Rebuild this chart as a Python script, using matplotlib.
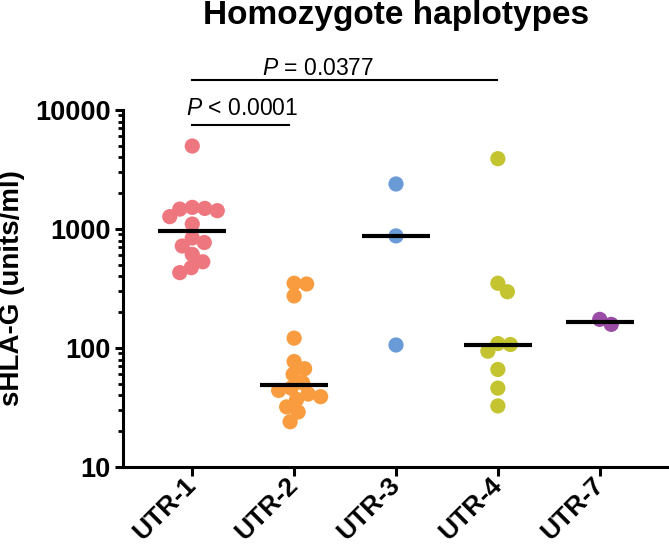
import numpy as np
import matplotlib
matplotlib.use("Agg")
import matplotlib.pyplot as plt
from matplotlib.ticker import LogLocator, NullFormatter, FixedLocator, FixedFormatter

plt.rcParams['font.family'] = ['Liberation Sans', 'DejaVu Sans']
plt.rcParams['mathtext.fontset'] = 'custom'
plt.rcParams['mathtext.it'] = 'Liberation Sans:italic'
plt.rcParams['mathtext.rm'] = 'Liberation Sans'

# ---- data ----
categories = ['UTR-1', 'UTR-2', 'UTR-3', 'UTR-4', 'UTR-7']
utr1 = [4980, 1520, 1490, 1470, 1425, 1270, 1100, 840, 770, 720, 612, 530, 473, 430]
utr2 = [350, 345, 274, 121, 77, 67, 60, 51, 46, 44, 41, 39, 37, 32, 29, 24]
utr3 = [2390, 875, 106]
utr4 = [3900, 350, 297, 109, 107, 94, 66, 46, 32.6]
utr7 = [174, 158]
groups = [utr1, utr2, utr3, utr4, utr7]
colors = ['#EE767E', '#F89C3F', '#6A9BD6', '#C4C431', '#9B4DA6']
yticks = [10, 100, 1000, 10000]
ytick_labels = ['10', '100', '1000', '10000']
p_texts = ['$\\mathit{P}$ = 0.0377', '$\\mathit{P}$ < 0.0001']

W, H = 669, 555
fig = plt.figure(figsize=(W / 100, H / 100), dpi=100)
ax = fig.add_axes([123 / W, 88 / H, 1 - 123 / W, 357 / H])
ax.set_yscale('log')
ax.set_ylim(10, 10000)
ax.set_xlim(-0.68, 4.68)


def swarm_x(xc, vals, sep_px):
    vals = np.asarray(vals, dtype=float)
    pts = ax.transData.transform(np.column_stack([np.full(len(vals), xc), vals]))
    ypx = pts[:, 1]
    order = np.argsort(-vals, kind='stable')
    cands = [0.0]
    for k in np.arange(0.5, 80, 0.5):
        cands += [k, -k]
    placed = []
    offs = np.zeros(len(vals))
    for i in order:
        chosen = 0.0
        for c in cands:
            if all((c - px) ** 2 + (ypx[i] - py) ** 2 >= sep_px ** 2 for px, py in placed):
                chosen = c
                break
        offs[i] = chosen
        placed.append((chosen, ypx[i]))
    ppu = ax.transData.transform((1, 10))[0] - ax.transData.transform((0, 10))[0]
    return xc + offs / ppu


for i, (vals, col) in enumerate(zip(groups, colors)):
    xs = swarm_x(i, vals, 12.5)
    ax.scatter(xs, vals, s=120, color=col, edgecolors='none', zorder=3, clip_on=False)
    ax.hlines(np.median(vals), i - 0.335, i + 0.335, colors='black', linewidth=3.0, zorder=4)

# axes styling
for s in ['top', 'right']:
    ax.spines[s].set_visible(False)
for s in ['left', 'bottom']:
    ax.spines[s].set_linewidth(2.2)

ax.yaxis.set_major_locator(FixedLocator(yticks))
ax.yaxis.set_major_formatter(FixedFormatter(ytick_labels))
ax.yaxis.set_minor_locator(LogLocator(base=10, subs=np.arange(2, 10)))
ax.yaxis.set_minor_formatter(NullFormatter())
ax.tick_params(axis='y', which='major', length=6, width=2.2, labelsize=19.5, pad=3)
ax.tick_params(axis='y', which='minor', length=3.8, width=2.0)
for lab in ax.get_yticklabels():
    lab.set_fontweight('bold')

ax.set_xticks(range(len(categories)))
ax.set_xticklabels(categories, rotation=45, ha='right', va='center',
                   rotation_mode='anchor', fontsize=19, fontweight='bold')
ax.tick_params(axis='x', which='major', length=6.5, width=2.2, pad=4)
ax.tick_params(axis='x', which='minor', length=0)

ax.set_ylabel('sHLA-G (units/ml)', fontsize=20, fontweight='bold')
ax.yaxis.set_label_coords(-0.18, 0.5)

ax.set_title('Homozygote haplotypes', fontsize=24, fontweight='bold')
ax.title.set_transform(fig.transFigure)
ax.title.set_position((396 / W, 1 - 3 / H))
ax.title.set_va('top')

# significance annotations
trans = ax.get_xaxis_transform()
ax.plot([0, 2.99], [1.084, 1.084], color='black', lw=1.5, transform=trans, clip_on=False)
ax.plot([0, 0.95], [0.958, 0.958], color='black', lw=1.5, transform=trans, clip_on=False)
ax.text(1.235, 1.098, p_texts[0], transform=trans, ha='center', va='baseline', fontsize=16.5)
ax.text(0.49, 0.986, p_texts[1], transform=trans, ha='center', va='baseline', fontsize=16.5)

fig.savefig('out.png', dpi=100)
